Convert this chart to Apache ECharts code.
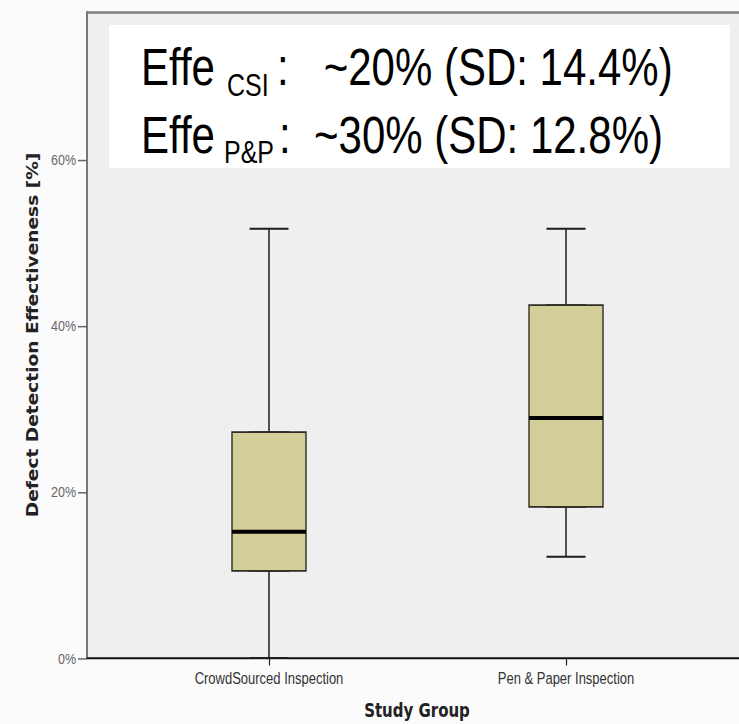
<!DOCTYPE html>
<html><head><meta charset="utf-8">
<script src="https://cdn.jsdelivr.net/npm/echarts@6/dist/echarts.min.js"></script>
<style>
html,body{margin:0;padding:0;background:#fbfbfb;overflow:hidden;width:739px;height:724px}
#chart{width:739px;height:584px;transform:scaleY(1.2397260274);transform-origin:0 0}
</style></head><body><div id="chart"></div>
<script>
// ---- data ----
const categories = ['CrowdSourced Inspection', 'Pen & Paper Inspection'];
const whiskerLow = [0, 12.2];
const quartile1 = [10.5, 18.2];
const medians = [15.2, 28.9];
const quartile3 = [27.2, 42.5];
const whiskerHigh = [51.7, 51.7];
const yTicks = [0, 20, 40, 60];
const yMax = 77.8;
const yTitle = 'Defect Detection Effectiveness [%]';
const xTitle = 'Study Group';
const noteMain = ['Effe', 'Effe'];
const noteSub = ['CSI', 'P&P'];
const noteRest = [':   ~20% (SD: 14.4%)', ':  ~30% (SD: 12.8%)'];

// ---- layout (reference px -> chart px, chart is stretched vertically by CSS) ----
const SY = 724 / 584;
const Y = v => v / SY;
const gridTop = Y(12);
const gridBottom = 584 - Y(658);

const boxColor = '#d4cf98';
const font = 'Liberation Sans';

const fullData = categories.map((c, i) => [whiskerLow[i], quartile1[i], medians[i], quartile3[i], whiskerHigh[i]]);
const boxData = categories.map((c, i) => [quartile1[i], quartile1[i], medians[i], quartile3[i], quartile3[i]]);
const medData = medians.map(m => [m, m, m, m, m]);

const lineCy = [66.5, 134.5];
const subCy = [86, 153];
const subX = [227, 224];
const restX = [277, 279];
const graphics = [{
  type: 'rect', z: 100,
  shape: { x: 109, y: Y(25), width: 621, height: Y(168) - Y(25) },
  style: { fill: '#ffffff' }
}];
noteMain.forEach((t, i) => {
  graphics.push({ type: 'text', z: 101, x: 141, y: Y(lineCy[i]),
    style: { text: t, fontSize: 42, fontFamily: font, fill: '#000', verticalAlign: 'middle', align: 'left' } });
  graphics.push({ type: 'text', z: 101, x: subX[i], y: Y(subCy[i]),
    style: { text: noteSub[i], fontSize: 25, fontFamily: font, fill: '#000', verticalAlign: 'middle', align: 'left' } });
  graphics.push({ type: 'text', z: 101, x: restX[i], y: Y(lineCy[i]),
    style: { text: noteRest[i], fontSize: 42, fontFamily: font, fill: '#000', verticalAlign: 'middle', align: 'left' } });
});

const boxGrid = { left: 120.5, right: 739 - 714.5, top: gridTop, bottom: gridBottom, outerBoundsMode: 'none', containLabel: false };
const hiddenCat = gi => ({ gridIndex: gi, type: 'category', data: categories, boundaryGap: true, show: false });
const hiddenVal = gi => ({ gridIndex: gi, type: 'value', min: 0, max: yMax, show: false });

const chart = echarts.init(document.getElementById('chart'), null, { renderer: 'svg', width: 739, height: 584 });
chart.setOption({
  animation: false,
  backgroundColor: '#fbfbfb',
  grid: [
    { left: 87, right: -8, top: gridTop, bottom: gridBottom, show: true, outerBoundsMode: 'none', containLabel: false,
      backgroundColor: '#efefef', borderWidth: 0 },
    boxGrid, boxGrid, boxGrid
  ],
  xAxis: [
    { gridIndex: 0, type: 'value', min: 0, max: 1,
      axisLine: { show: true, lineStyle: { color: '#111', width: 1.5 } },
      axisTick: { show: false }, axisLabel: { show: false }, splitLine: { show: false },
      name: xTitle, nameLocation: 'middle', nameGap: 35,
      nameTextStyle: { fontFamily: 'DejaVu Sans', fontWeight: 'bold', fontSize: 15, color: '#222' } },
    { gridIndex: 1, type: 'category', data: categories, boundaryGap: true,
      axisLine: { show: false },
      axisTick: { show: true, alignWithLabel: true, length: 6, lineStyle: { color: '#222', width: 1.2 } },
      axisLabel: { fontFamily: font, fontSize: 13, color: '#333', margin: 10 },
      splitLine: { show: false } },
    hiddenCat(2), hiddenCat(3),
    { gridIndex: 0, type: 'value', position: 'top', min: 0, max: 1,
      axisLine: { show: true, lineStyle: { color: '#808080', width: 2 } },
      axisTick: { show: false }, axisLabel: { show: false }, splitLine: { show: false } }
  ],
  yAxis: [
    { gridIndex: 0, type: 'value', min: 0, max: yMax, interval: 20,
      axisLine: { show: true, lineStyle: { color: '#777', width: 2 } },
      axisTick: { show: true, length: 9, customValues: yTicks, lineStyle: { color: '#666', width: 1.2 } },
      axisLabel: { customValues: yTicks, formatter: v => yTicks.includes(v) ? v + '%' : '',
        fontFamily: font, fontSize: 12.5, color: '#666', margin: 11 },
      splitLine: { show: false },
      name: yTitle, nameLocation: 'middle', nameGap: 46,
      nameTextStyle: { fontFamily: 'DejaVu Sans', fontWeight: 'bold', fontSize: 15, color: '#222' } },
    hiddenVal(1), hiddenVal(2), hiddenVal(3)
  ],
  graphic: { elements: graphics },
  series: [
    { type: 'boxplot', xAxisIndex: 1, yAxisIndex: 1, z: 2, silent: true, boxWidth: [39, 39],
      data: fullData, itemStyle: { color: boxColor, borderColor: '#1e1e1e', borderWidth: 1.5 } },
    { type: 'boxplot', xAxisIndex: 2, yAxisIndex: 2, z: 3, silent: true, boxWidth: [74, 74],
      data: boxData, itemStyle: { color: boxColor, borderColor: '#2e2e26', borderWidth: 1.4 } },
    { type: 'boxplot', xAxisIndex: 3, yAxisIndex: 3, z: 4, silent: true, boxWidth: [74, 74],
      data: medData, itemStyle: { color: '#000', borderColor: '#000', borderWidth: 3.3 } }
  ]
});
</script></body></html>
